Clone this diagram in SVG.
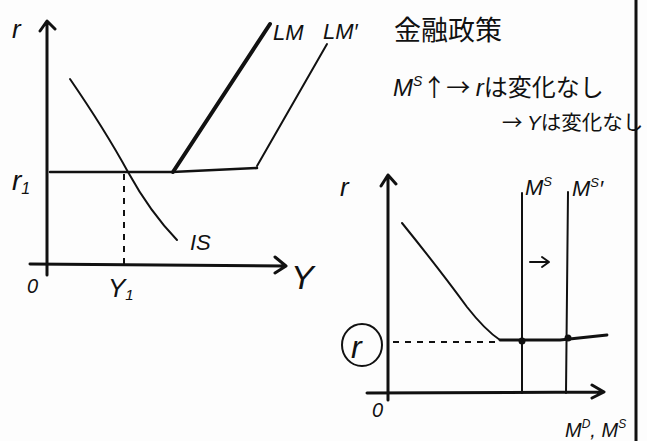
<svg xmlns="http://www.w3.org/2000/svg" width="647" height="441" viewBox="0 0 647 441">
<style>
.ax{stroke:#111;stroke-width:3;fill:none;stroke-linecap:round;stroke-linejoin:round}
.ln{stroke:#111;stroke-width:2;fill:none;stroke-linecap:round;stroke-linejoin:round}
.th{stroke:#111;stroke-width:4;fill:none;stroke-linecap:round}
.ds{stroke:#111;stroke-width:2;fill:none;stroke-dasharray:6 6}
.t{font-family:"Liberation Sans","Noto Sans CJK JP",sans-serif;font-style:italic;fill:#111}
.j{font-family:"Noto Sans CJK JP",sans-serif;fill:#111}
</style>
<rect width="647" height="441" fill="#fdfdfd"/>
<g id="connectors">
  <path class="ax" d="M47,275 L47,22 M40,31 L47,21 L55,29"/>
  <path class="ax" d="M30,264 L285,266 M275,257 L286,266 L275,273"/>
  <path class="ln" style="stroke-width:2.6" d="M50,172 L172,172 L257,168"/>
  <path class="th" d="M173,172 L270,24"/>
  <path class="ln" d="M257,166 L327,44"/>
  <path class="ln" d="M70,79 Q105,130 128,172 Q150,212 177,240"/>
  <path class="ds" d="M124,174 L124,264"/>
  <path class="ax" d="M388,400 L388,175 M381,186 L388,175 L396,184"/>
  <path class="ax" d="M367,393 L603,392 M592,385 L604,392 L592,398"/>
  <path class="ln" d="M402,223 Q440,270 467,307 Q485,330 500,340"/>
  <path class="ln" style="stroke-width:2.8" d="M500,340 L560,340 L607,335"/>
  <path class="ds" d="M393,342 L500,342"/>
  <path class="ln" d="M522,193 L522,393"/>
  <path class="ln" d="M568,192 L566,393"/>
  <circle cx="522" cy="341" r="3.5" fill="#111"/>
  <circle cx="568" cy="338" r="3.5" fill="#111"/>
  <path class="ln" d="M530,262 L548,262 M542,257 L549,262 L542,267"/>
  <path stroke="#111" stroke-width="3" d="M636,0 L636,441"/>
</g>
<g id="left-labels">
  <text class="t" x="12" y="38" font-size="26">r</text>
  <text class="t" x="12" y="190" font-size="28">r<tspan font-size="16" dy="4">1</tspan></text>
  <text class="t" x="27" y="293" font-size="20">0</text>
  <text class="t" x="108" y="297" font-size="26">Y<tspan font-size="15" dy="3">1</tspan></text>
  <text class="t" x="291" y="289" font-size="34">Y</text>
  <text class="t" x="190" y="250" font-size="22">IS</text>
  <text class="t" x="273" y="40" font-size="22">LM</text>
  <text class="t" x="323" y="39" font-size="22">LM′</text>
</g>
<g id="right-labels">
  <text class="t" x="340" y="196" font-size="26">r</text>
  <g id="r-circled">
    <ellipse cx="362" cy="345" rx="20" ry="21" class="ln"/>
    <text class="t" x="351" y="358" font-size="32">r</text>
  </g>
  <text class="t" x="372" y="417" font-size="20">0</text>
  <text class="t" x="565" y="437" font-size="20">M<tspan font-size="12" dy="-9">D</tspan><tspan dy="9">, M</tspan><tspan font-size="12" dy="-9">S</tspan></text>
  <text class="t" x="525" y="195" font-size="22">M<tspan font-size="13" dy="-9">S</tspan></text>
  <text class="t" x="572" y="196" font-size="22">M<tspan font-size="13" dy="-9">S</tspan><tspan dy="9">′</tspan></text>
</g>
<g id="notes">
  <text class="j" x="394" y="40" font-size="27">金融政策</text>
  <text class="j" x="393" y="96" font-size="24"><tspan class="t">M</tspan><tspan class="t" font-size="14" dy="-10">S</tspan><tspan dy="10">↑→ </tspan><tspan class="t">r</tspan>は変化なし</text>
  <text class="j" x="502" y="130" font-size="20.5">→ <tspan class="t">Y</tspan>は変化なし</text>
</g>
</svg>
